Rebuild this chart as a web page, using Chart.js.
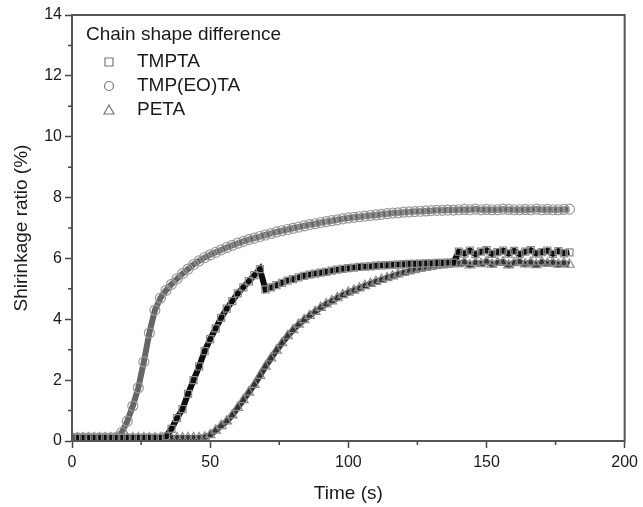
<!DOCTYPE html>
<html>
<head>
<meta charset="utf-8">
<style>
  html, body { margin: 0; padding: 0; background: #fff; }
  #wrap { width: 643px; height: 507px; }
</style>
<script src="https://cdn.jsdelivr.net/npm/chart.js@4.4.1/dist/chart.umd.min.js"></script>
</head>
<body>
<div id="wrap"><canvas id="c" width="643" height="507"></canvas></div>
<script>
const time = [0,2,4,6,8,10,12,14,16,18,20,22,24,26,28,30,32,34,36,38,40,42,44,46,48,50,52,54,56,58,60,62,64,66,68,70,72,74,76,78,80,82,84,86,88,90,92,94,96,98,100,102,104,106,108,110,112,114,116,118,120,122,124,126,128,130,132,134,136,138,140,142,144,146,148,150,152,154,156,158,160,162,164,166,168,170,172,174,176,178,180];

const tmpta = [0.1,0.1,0.1,0.1,0.1,0.1,0.1,0.1,0.1,0.1,0.1,0.1,0.1,0.1,0.1,0.1,0.1,
  0.15,0.4,0.75,1.05,1.55,2.0,2.45,2.95,3.35,3.7,4.05,4.35,4.6,4.85,5.05,5.25,5.45,5.65,
  4.98,5.05,5.12,5.2,5.27,5.32,5.38,5.43,5.47,5.5,5.53,5.56,5.6,5.63,5.66,5.68,
  5.7,5.72,5.73,5.74,5.76,5.77,5.78,5.79,5.8,5.81,5.82,5.82,5.83,5.84,5.84,5.85,5.85,5.86,5.86,
  6.22,6.16,6.26,6.14,6.22,6.27,6.15,6.21,6.26,6.16,6.25,6.14,6.22,6.27,6.16,6.21,6.26,6.15,6.24,6.17,6.2];

const tmpeota = [0.1,0.1,0.1,0.1,0.1,0.1,0.1,0.1,
  0.12,0.28,0.65,1.15,1.75,2.6,3.55,4.3,4.7,4.95,5.15,5.33,5.5,5.65,5.8,5.92,6.03,6.12,
  6.2,6.28,6.36,6.43,6.5,6.56,6.62,6.67,6.72,6.77,6.82,6.87,6.91,6.95,6.99,7.03,7.07,7.11,7.14,7.18,7.21,7.24,7.27,7.3,7.33,
  7.35,7.37,7.39,7.41,7.43,7.45,7.47,7.49,7.5,7.52,7.53,7.54,7.55,7.56,7.57,7.58,7.58,7.59,7.59,
  7.6,7.61,7.6,7.62,7.6,7.61,7.6,7.6,7.62,7.61,7.6,7.6,7.61,7.6,7.62,7.6,7.61,7.6,7.6,7.61,7.62];

const peta = [0.1,0.1,0.1,0.1,0.1,0.1,0.1,0.1,0.1,0.1,0.1,0.1,0.1,0.1,0.1,0.1,0.1,0.1,0.1,0.1,0.1,0.1,0.1,0.1,
  0.12,0.2,0.35,0.5,0.65,0.85,1.1,1.35,1.6,1.85,2.15,2.45,2.72,2.98,3.22,3.45,3.65,3.83,3.98,4.12,4.25,4.38,4.5,4.6,4.7,4.8,4.88,
  4.95,5.02,5.1,5.17,5.24,5.3,5.36,5.42,5.48,5.53,5.58,5.62,5.66,5.7,5.73,5.76,5.78,5.8,5.82,
  5.82,5.88,5.78,5.86,5.82,5.9,5.8,5.86,5.88,5.78,5.85,5.89,5.81,5.87,5.79,5.88,5.83,5.86,5.8,5.85,5.8];

const seriesNames = ['TMPTA', 'TMP(EO)TA', 'PETA'];
const legendTitle = 'Chain shape difference';
const xTickValues = [0, 50, 100, 150, 200];
const xMinorTicks = [25, 75, 125, 175];
const yTickValues = [0, 2, 4, 6, 8, 10, 12, 14];
const yMinorTicks = [1, 3, 5, 7, 9, 11, 13];

function pts(arr) { return time.map((t, i) => ({ x: t, y: arr[i] })); }

const FONT = 'Liberation Sans, Arial, Helvetica, sans-serif';

const framePlugin = {
  id: 'frame',
  afterDraw(chart) {
    const { ctx, chartArea: a, scales } = chart;
    ctx.save();
    ctx.strokeStyle = '#555';
    ctx.lineWidth = 2;
    ctx.strokeRect(a.left, a.top, a.right - a.left, a.bottom - a.top);
    ctx.lineWidth = 1.5;
    ctx.strokeStyle = '#444';
    ctx.beginPath();
    xMinorTicks.forEach(v => {
      const px = scales.x.getPixelForValue(v);
      ctx.moveTo(px, a.bottom); ctx.lineTo(px, a.bottom + 4);
    });
    yMinorTicks.forEach(v => {
      const py = scales.y.getPixelForValue(v);
      ctx.moveTo(a.left, py); ctx.lineTo(a.left - 4, py);
    });
    ctx.stroke();
    ctx.restore();
  }
};

const legendPlugin = {
  id: 'innerLegend',
  afterDraw(chart) {
    const { ctx } = chart;
    ctx.save();
    ctx.fillStyle = '#1a1a1a';
    ctx.font = '19px ' + FONT;
    ctx.textBaseline = 'middle';
    ctx.textAlign = 'left';
    ctx.fillText(legendTitle, 86, 35);
    const rows = [62, 86, 110];
    chart.data.datasets.forEach((ds, i) => {
      const y = rows[i];
      const x = 109;
      ctx.strokeStyle = '#777';
      ctx.lineWidth = 1.2;
      ctx.beginPath();
      if (ds.pointStyle === 'rect') {
        ctx.rect(x - 4, y - 4, 8, 8);
      } else if (ds.pointStyle === 'circle') {
        ctx.arc(x, y, 4.5, 0, Math.PI * 2);
      } else {
        ctx.moveTo(x, y - 5); ctx.lineTo(x + 5, y + 4); ctx.lineTo(x - 5, y + 4); ctx.closePath();
      }
      ctx.stroke();
      ctx.fillStyle = '#1a1a1a';
      ctx.fillText(ds.label, 137, y);
    });
    ctx.restore();
  }
};

new Chart(document.getElementById('c'), {
  type: 'scatter',
  data: {
    datasets: [
      { label: seriesNames[0], data: pts(tmpta), showLine: true, borderColor: '#0d0d0d', borderWidth: 6,
        pointStyle: 'rect', pointRadius: 5, pointBorderColor: '#8a8a8a', pointBackgroundColor: 'rgba(255,255,255,0)', pointBorderWidth: 1.2 },
      { label: seriesNames[1], data: pts(tmpeota), showLine: true, borderColor: '#666', borderWidth: 6,
        pointStyle: 'circle', pointRadius: 5, pointBorderColor: '#9a9a9a', pointBackgroundColor: 'rgba(255,255,255,0)', pointBorderWidth: 1.2 },
      { label: seriesNames[2], data: pts(peta), showLine: true, borderColor: '#333', borderWidth: 6,
        pointStyle: 'triangle', pointRadius: 5.5, pointBorderColor: '#8a8a8a', pointBackgroundColor: 'rgba(255,255,255,0)', pointBorderWidth: 1.2 }
    ]
  },
  options: {
    responsive: false,
    animation: false,
    devicePixelRatio: 1,
    layout: { padding: { left: 0, right: 14, top: 15, bottom: 0 } },
    plugins: { legend: { display: false }, tooltip: { enabled: false } },
    scales: {
      x: {
        type: 'linear', min: 0, max: 200,
        afterFit(s) { s.height = 66; },
        afterBuildTicks(s) { s.ticks = xTickValues.map(v => ({ value: v })); },
        ticks: { color: '#1a1a1a', font: { size: 16, family: FONT }, padding: 5, maxRotation: 0 },
        grid: { display: true, drawOnChartArea: false, drawTicks: true, tickLength: 7, tickColor: '#444', tickWidth: 1.5 },
        border: { display: true, color: '#555', width: 2 },
        title: { display: true, text: 'Time (s)', color: '#1a1a1a', font: { size: 19, family: FONT }, padding: { top: 0, bottom: 2 } }
      },
      y: {
        type: 'linear', min: 0, max: 14,
        afterFit(s) { s.width = 72; },
        afterBuildTicks(s) { s.ticks = yTickValues.map(v => ({ value: v })); },
        ticks: { color: '#1a1a1a', font: { size: 16, family: FONT }, padding: 3 },
        grid: { display: true, drawOnChartArea: false, drawTicks: true, tickLength: 7, tickColor: '#444', tickWidth: 1.5 },
        border: { display: true, color: '#555', width: 2 },
        title: { display: true, text: 'Shirinkage ratio (%)', color: '#1a1a1a', font: { size: 19, family: FONT }, padding: { top: 10, bottom: 0 } }
      }
    }
  },
  plugins: [framePlugin, legendPlugin]
});
</script>
</body>
</html>
